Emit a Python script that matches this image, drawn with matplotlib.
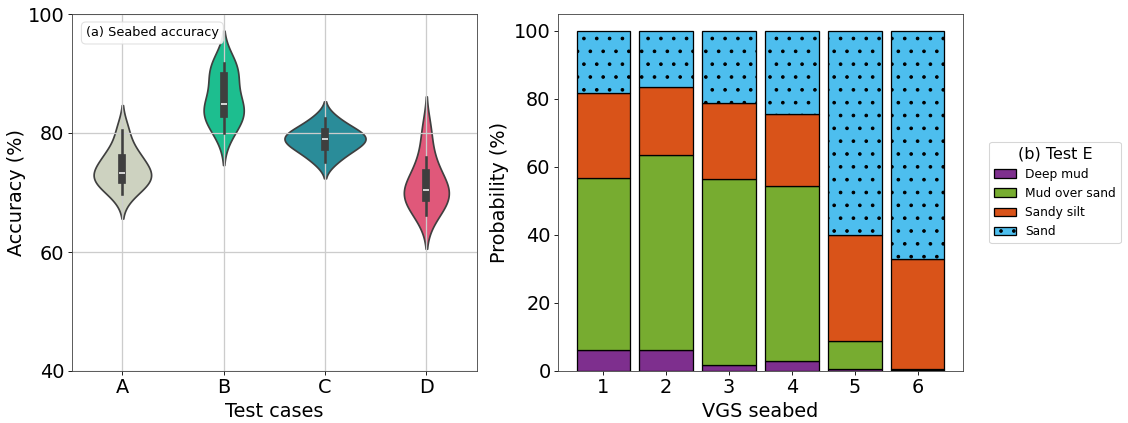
import numpy as np
import pandas as pd
import matplotlib
matplotlib.use("Agg")
import matplotlib.pyplot as plt
import seaborn as sns

# accuracy samples per test case (%)
cases = ["A", "B", "C", "D"]
acc_A = [69.8, 71.2, 72.0, 72.5, 73.0, 73.6, 74.8, 76.2, 77.0, 80.5]
acc_B = [80.0, 82.0, 83.0, 83.6, 84.4, 85.2, 88.0, 90.0, 91.0, 91.8]
acc_C = [75.2, 76.8, 77.4, 78.3, 78.8, 79.2, 79.6, 80.3, 81.0, 82.5]
acc_D = [66.2, 67.5, 68.9, 69.5, 70.2, 70.8, 71.5, 73.8, 76.0, 80.5]
violin_colors = ["#cdd2c0", "#1dbe8f", "#2a8c99", "#e0587a"]

# class probabilities for test E (%)
seabeds = [1, 2, 3, 4, 5, 6]
deep_mud = [6.3, 6.3, 1.9, 2.9, 0.5, 0.3]
mud_over_sand = [50.4, 57.3, 54.5, 51.5, 8.3, 0.4]
sandy_silt = [25.1, 20.0, 22.4, 21.3, 31.1, 32.1]
sand = [18.2, 16.4, 21.2, 24.3, 60.1, 67.2]
class_names = ["Deep mud", "Mud over sand", "Sandy silt", "Sand"]
class_colors = ["#7e2f8e", "#77ac30", "#d95319", "#4dbeee"]
class_hatch = [None, None, None, "."]

DPI = 77
fig = plt.figure(figsize=(1128 / DPI, 423 / DPI), dpi=DPI)
ax1 = fig.add_axes([71.7 / 1128, 52 / 423, 405.3 / 1128, 357 / 423])
ax2 = fig.add_axes([558 / 1128, 52 / 423, 405 / 1128, 357 / 423])

# (a) violins
df = pd.DataFrame({
    "case": np.repeat(cases, [len(acc_A), len(acc_B), len(acc_C), len(acc_D)]),
    "acc": acc_A + acc_B + acc_C + acc_D,
})
sns.violinplot(data=df, x="case", y="acc", hue="case", palette=violin_colors,
               legend=False, ax=ax1, linewidth=1.6, bw_adjust=1.05,
               saturation=1, common_norm=True, linecolor="#3f3f3f")
ax1.set_ylim(40, 100)
ax1.set_yticks([40, 60, 80, 100])
ax1.grid(True, color="#cccccc", linewidth=1.2)
ax1.set_xlabel("Test cases", fontsize=18)
ax1.set_ylabel("Accuracy (%)", fontsize=18, labelpad=1)
ax1.tick_params(labelsize=18)
ax1.text(0.035, 0.965, "(a) Seabed accuracy", transform=ax1.transAxes,
         fontsize=12, va="top", ha="left",
         bbox=dict(boxstyle="round,pad=0.35", fc="white", ec="#dddddd", alpha=0.9))

# (b) stacked bars
layers = [deep_mud, mud_over_sand, sandy_silt, sand]
bottom = np.zeros(len(seabeds))
for vals, name, col, h in zip(layers, class_names, class_colors, class_hatch):
    ax2.bar(seabeds, vals, bottom=bottom, width=0.85, color=col,
            edgecolor="black", linewidth=1.2, hatch=h, label=name)
    bottom += np.array(vals)
ax2.set_xlim(0.28, 6.72)
ax2.set_ylim(0, 105)
ax2.set_xticks(seabeds)
ax2.set_xlabel("VGS seabed", fontsize=18)
ax2.set_ylabel("Probability (%)", fontsize=18)
ax2.tick_params(labelsize=18)
ax2.legend(title="(b) Test E", loc="center left", bbox_to_anchor=(1.05, 0.5),
           fontsize=11.5, title_fontsize=15, handlelength=1.8, borderpad=0.4,
           handletextpad=0.7)

for ax in (ax1, ax2):
    for s in ax.spines.values():
        s.set_color("#444444")

fig.savefig("out.png", dpi=DPI)
